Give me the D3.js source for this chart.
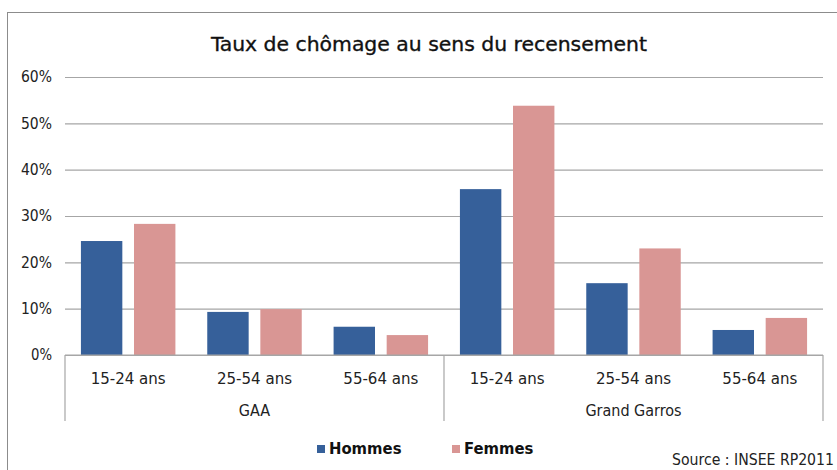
<!DOCTYPE html>
<html><head><meta charset="utf-8">
<script src="https://cdn.jsdelivr.net/npm/d3@7"></script>
<style>
html,body{margin:0;padding:0;background:#fff;}
svg{display:block;font-family:"DejaVu Sans","Liberation Sans",sans-serif;}
</style></head>
<body><svg id="c" width="837" height="470"></svg>
<script>
const title = "Taux de chômage au sens du recensement";
const groups = ["GAA", "Grand Garros"];
const ages = ["15-24 ans", "25-54 ans", "55-64 ans"];
const series = ["Hommes", "Femmes"];
const hommes = [0.246, 0.093, 0.061, 0.358, 0.155, 0.054];
const femmes = [0.283, 0.099, 0.043, 0.538, 0.230, 0.080];
const yTicks = [0, 0.1, 0.2, 0.3, 0.4, 0.5, 0.6];
const colors = ["#36609A", "#D99694"];
const source = "Source : INSEE RP2011";

const svg = d3.select("#c");
const M = {left: 65, right: 823, top: 77, bottom: 355};

// outer frame
svg.append("rect").attr("x", 7.5).attr("y", 12.5).attr("width", 860).attr("height", 500)
  .attr("fill", "none").attr("stroke", "#8c8c8c").attr("stroke-width", 1);

svg.append("text").attr("x", 429).attr("y", 51).attr("text-anchor", "middle")
  .attr("font-size", 19).attr("font-weight", 500).attr("fill", "#111")
  .attr("textLength", 436).attr("lengthAdjust", "spacingAndGlyphs")
  .style("font-family", "DejaVu Sans Condensed, sans-serif").style("stroke", "#111").style("stroke-width", 0.3)
  .text(title);

const cats = [];
groups.forEach((g, gi) => ages.forEach((a, ai) => cats.push({g, a, i: gi * ages.length + ai})));

const x0 = d3.scaleBand().domain(cats.map(d => d.i)).range([M.left, M.right]).padding(0);
const x1 = d3.scaleBand().domain(series).range([0, x0.bandwidth()]).paddingInner(0.22).paddingOuter(0.3);
const y = d3.scaleLinear().domain([0, 0.6]).range([M.bottom, M.top]);

// gridlines + y labels
const yAxis = d3.axisLeft(y).tickValues(yTicks).tickFormat(d3.format(".0%"))
  .tickSize(-(M.right - M.left)).tickPadding(13);
const ga = svg.append("g").attr("transform", `translate(${M.left},0)`).call(yAxis);
ga.select(".domain").remove();
ga.selectAll(".tick line").attr("stroke", "#a6a6a6").attr("stroke-width", 1.2);
ga.selectAll(".tick text").attr("font-size", 15).attr("fill", "#222")
  .attr("font-family", "DejaVu Sans Condensed, sans-serif").attr("textLength", 31).attr("lengthAdjust", "spacingAndGlyphs");
ga.selectAll(".tick text").filter(d => d === 0).attr("textLength", 21);

// bars
const vals = [hommes, femmes];
series.forEach((s, si) => {
  svg.append("g").selectAll("rect").data(cats).join("rect")
    .attr("x", d => x0(d.i) + x1(s))
    .attr("width", x1.bandwidth())
    .attr("y", d => y(vals[si][d.i]))
    .attr("height", d => y(0) - y(vals[si][d.i]))
    .attr("fill", colors[si]);
});

// category axis box
const ax = svg.append("g").attr("stroke", "#a6a6a6").attr("stroke-width", 1.2);
ax.append("line").attr("x1", M.left).attr("x2", M.right).attr("y1", M.bottom).attr("y2", M.bottom);
const gw = (M.right - M.left) / groups.length;
d3.range(groups.length + 1).forEach(k => {
  const xx = M.left + k * gw;
  ax.append("line").attr("x1", xx).attr("x2", xx).attr("y1", M.bottom).attr("y2", 421);
});

svg.append("g").selectAll("text").data(cats).join("text")
  .attr("x", d => x0(d.i) + x0.bandwidth() / 2).attr("y", 384)
  .attr("text-anchor", "middle").attr("font-size", 16).attr("fill", "#222").text(d => d.a)
  .style("font-family", "DejaVu Sans Condensed, sans-serif").attr("textLength", 75).attr("lengthAdjust", "spacingAndGlyphs");
svg.append("g").selectAll("text").data(groups).join("text")
  .attr("x", (d, k) => M.left + (k + 0.5) * gw).attr("y", 416)
  .attr("text-anchor", "middle").attr("font-size", 16).attr("fill", "#222").text(d => d)
  .style("font-family", "DejaVu Sans Condensed, sans-serif");

// legend
const legX = [317, 452];
series.forEach((s, si) => {
  svg.append("rect").attr("x", legX[si]).attr("y", 445).attr("width", 8).attr("height", 8).attr("fill", colors[si]);
  svg.append("text").attr("x", legX[si] + 12).attr("y", 454).attr("font-size", 16.5)
    .style("font-family", "DejaVu Sans Condensed, sans-serif")
    .attr("font-weight", "bold").attr("fill", "#111").text(s);
});

svg.append("text").attr("x", 834).attr("y", 465).attr("text-anchor", "end").attr("font-size", 15)
  .style("font-family", "DejaVu Sans Condensed, sans-serif").attr("fill", "#222")
  .attr("textLength", 162).attr("lengthAdjust", "spacingAndGlyphs").text(source);
</script></body></html>
